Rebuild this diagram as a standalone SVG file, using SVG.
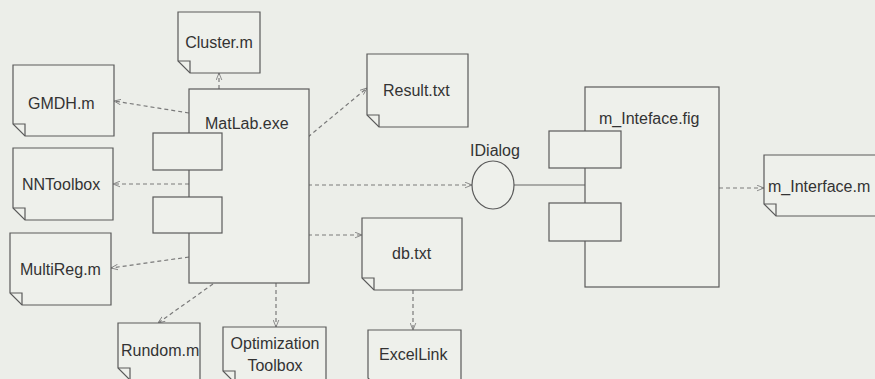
<svg xmlns="http://www.w3.org/2000/svg" width="875" height="379" viewBox="0 0 875 379">
<style>
.bg{fill:#eceee9}
.box{fill:#eef0eb;stroke:#5a5a5a;stroke-width:1.2}
.fold{fill:none;stroke:#5a5a5a;stroke-width:1.2}
.t{font-family:"Liberation Sans",Arial,sans-serif;font-size:16px;fill:#333}
.dep{fill:none;stroke:#7a7a7a;stroke-width:1.2;stroke-dasharray:4 3;marker-end:url(#ah)}
.sol{fill:none;stroke:#666;stroke-width:1.2}
</style>
<defs>
<marker id="ah" viewBox="0 0 10 10" refX="10" refY="5" markerWidth="7" markerHeight="7" orient="auto" markerUnits="userSpaceOnUse">
<path d="M0,1 L10,5 L0,9" fill="none" stroke="#7a7a7a" stroke-width="1.2"/>
</marker>
</defs>
<rect class="bg" x="0" y="0" width="875" height="379"/>

<g id="connectors">
<line class="dep" x1="219" y1="89" x2="219" y2="73"/>
<line class="dep" x1="189" y1="113" x2="114" y2="101"/>
<line class="dep" x1="189" y1="184" x2="113" y2="184"/>
<line class="dep" x1="189" y1="257" x2="111" y2="268"/>
<line class="dep" x1="213" y1="284" x2="158" y2="323"/>
<line class="dep" x1="276" y1="283" x2="276" y2="327"/>
<line class="dep" x1="308" y1="137" x2="367" y2="88"/>
<line class="dep" x1="308" y1="235" x2="362" y2="235"/>
<line class="dep" x1="413" y1="290" x2="413" y2="330"/>
<line class="dep" x1="308" y1="185" x2="472" y2="185"/>
<line class="sol" x1="514" y1="185" x2="585" y2="185"/>
<line class="dep" x1="719" y1="188" x2="764" y2="188"/>
</g>

<g id="Cluster">
<path class="box" d="M178,12 H260 V73 H190 L178,61 Z"/>
<path class="fold" d="M178,61 H190 V73"/>
<text class="t" x="219" y="48" text-anchor="middle">Cluster.m</text>
</g>

<g id="GMDH">
<path class="box" d="M13,65 H114 V136 H25 L13,124 Z"/>
<path class="fold" d="M13,124 H25 V136"/>
<text class="t" x="28" y="109">GMDH.m</text>
</g>

<g id="NNToolbox">
<path class="box" d="M13,148 H113 V220 H25 L13,208 Z"/>
<path class="fold" d="M13,208 H25 V220"/>
<text class="t" x="22" y="190">NNToolbox</text>
</g>

<g id="MultiReg">
<path class="box" d="M10,233 H111 V305 H22 L10,293 Z"/>
<path class="fold" d="M10,293 H22 V305"/>
<text class="t" x="20" y="275">MultiReg.m</text>
</g>

<g id="Rundom">
<path class="box" d="M118,323 H200 V380 H130 L118,368 Z"/>
<path class="fold" d="M118,368 H130 V380"/>
<text class="t" x="121" y="356">Rundom.m</text>
</g>

<g id="Optimization">
<path class="box" d="M223,327 H326 V383 H235 L223,371 Z"/>
<path class="fold" d="M223,371 H235 V383"/>
<text class="t" x="275" y="349" text-anchor="middle">Optimization</text>
<text class="t" x="275" y="371" text-anchor="middle">Toolbox</text>
</g>

<g id="MatLab">
<rect class="box" x="189" y="89" width="120" height="194"/>
<rect class="box" x="153" y="133" width="69" height="37"/>
<rect class="box" x="153" y="197" width="69" height="36"/>
<text class="t" x="205" y="129">MatLab.exe</text>
</g>

<g id="Result">
<path class="box" d="M367,54 H468 V127 H379 L367,115 Z"/>
<path class="fold" d="M367,115 H379 V127"/>
<text class="t" x="383" y="96">Result.txt</text>
</g>

<g id="db">
<path class="box" d="M362,218 H462 V290 H374 L362,278 Z"/>
<path class="fold" d="M362,278 H374 V290"/>
<text class="t" x="392" y="259">db.txt</text>
</g>

<g id="ExcelLink">
<path class="box" d="M368,330 H461 V390 H380 L368,378 Z"/>
<text class="t" x="379" y="360">ExcelLink</text>
</g>

<g id="IDialog">
<ellipse class="box" cx="493" cy="185" rx="21" ry="24"/>
<text class="t" x="495" y="156" text-anchor="middle">IDialog</text>
</g>

<g id="m_Inteface_fig">
<rect class="box" x="585" y="87" width="134" height="200"/>
<rect class="box" x="549" y="131" width="72" height="37"/>
<rect class="box" x="549" y="203" width="72" height="38"/>
<text class="t" x="599" y="124">m_Inteface.fig</text>
</g>

<g id="m_Interface_m">
<path class="box" d="M764,155 H880 V216 H776 L764,204 Z"/>
<path class="fold" d="M764,204 H776 V216"/>
<text class="t" x="768" y="192">m_Interface.m</text>
</g>
</svg>
